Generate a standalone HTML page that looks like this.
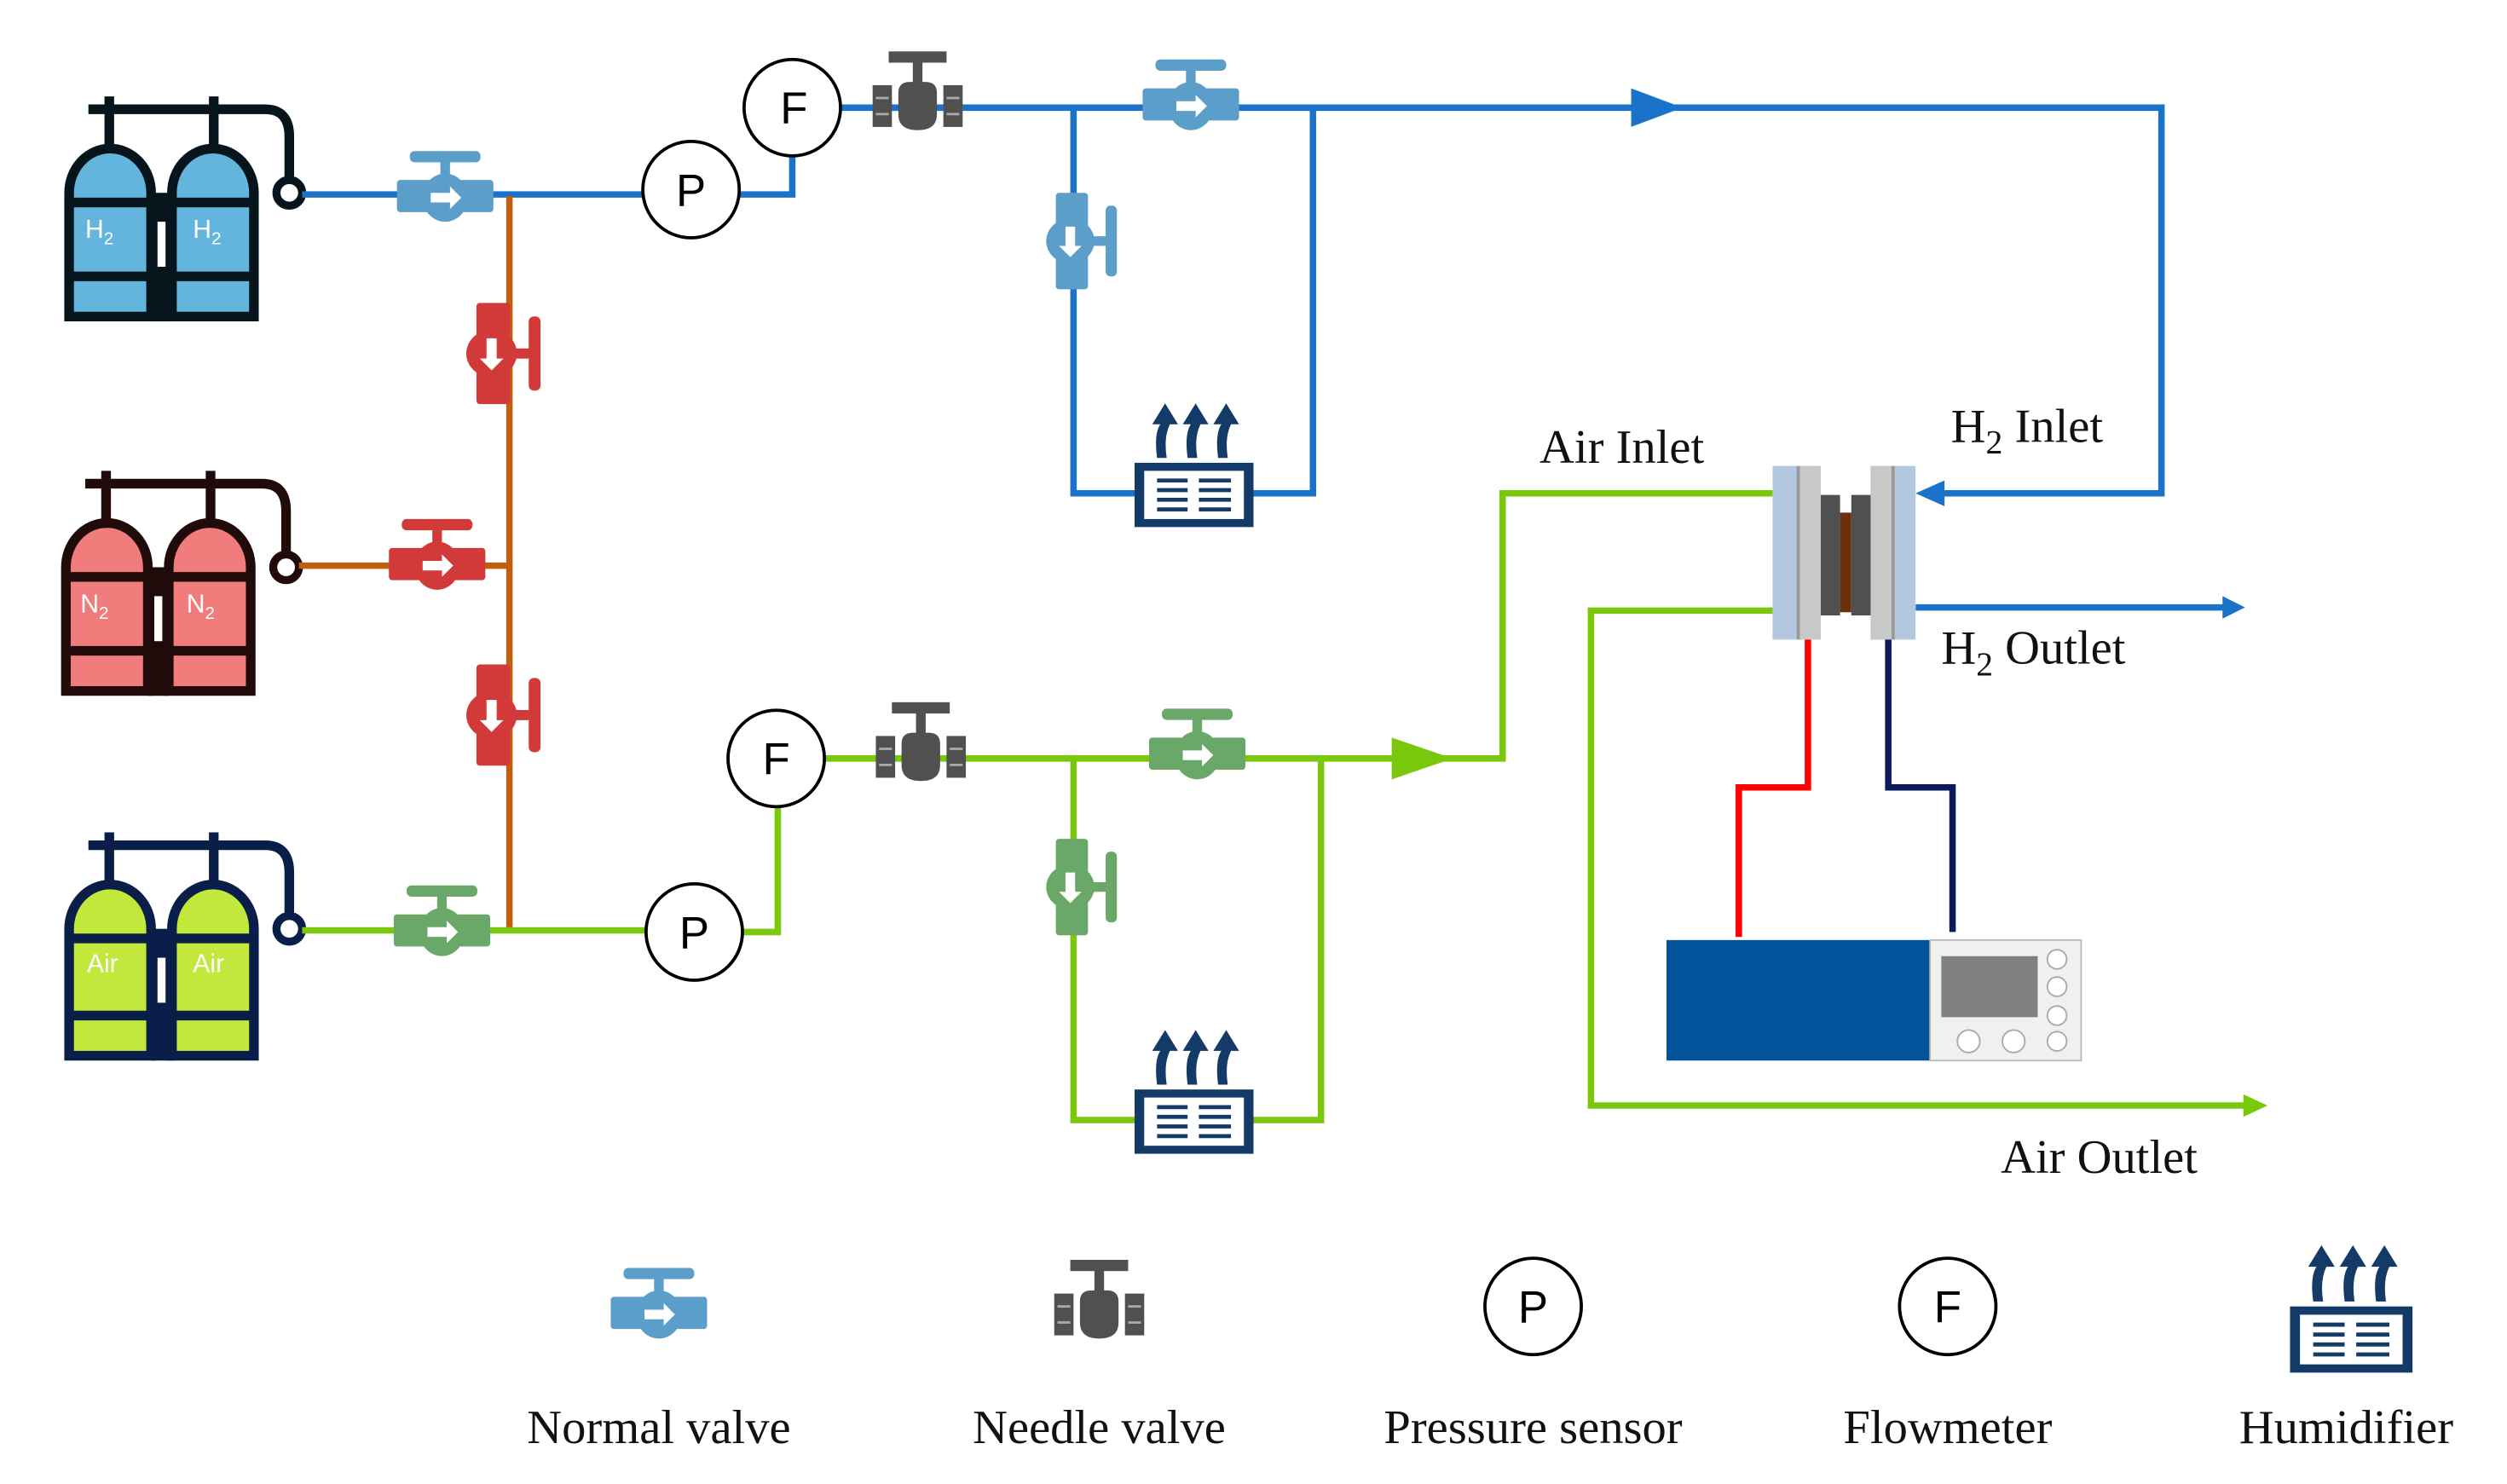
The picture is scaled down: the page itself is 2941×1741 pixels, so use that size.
<!DOCTYPE html>
<html><head><meta charset="utf-8"><style>
html,body{margin:0;padding:0;background:#fff;}
svg{display:block;}
.s{font-family:"Liberation Serif",serif;}
.a{font-family:"Liberation Sans",sans-serif;}
</style></head><body>
<svg width="2941" height="1741" viewBox="0 0 1560 923.5" xmlns="http://www.w3.org/2000/svg">
<defs>
<g id="nv">
  <rect x="-30" y="-9" width="60" height="20" rx="2"/>
  <ellipse cx="0" cy="2" rx="14" ry="15"/>
  <rect x="-3" y="-22" width="6" height="14"/>
  <rect x="-22" y="-27" width="44" height="7" rx="3"/>
  <path d="M-9,-1 H3 V-5 L10,2 L3,9 V5 H-9 Z" fill="#fff"/>
</g>
<g id="ndl" fill="#505050">
  <rect x="-28" y="-13" width="12" height="26"/>
  <rect x="16" y="-13" width="12" height="26"/>
  <path d="M-12,-8 Q-12,-15 -5,-15 H5 Q12,-15 12,-8 V5 Q12,15 0,15 Q-12,15 -12,5 Z"/>
  <rect x="-3" y="-28" width="6" height="14"/>
  <rect x="-18" y="-34" width="36" height="7"/>
  <g stroke="#aaa" stroke-width="1.5"><line x1="-26" y1="-5" x2="-18" y2="-5"/><line x1="-26" y1="5" x2="-18" y2="5"/><line x1="18" y1="-5" x2="26" y2="-5"/><line x1="18" y1="5" x2="26" y2="5"/></g>
</g>
<g id="hum">
  <rect x="0" y="0" width="74" height="40" fill="#143a68"/>
  <rect x="6" y="5" width="62" height="30" fill="#fff"/>
  <g stroke="#143a68" stroke-width="2.5">
    <line x1="14" y1="11" x2="33" y2="11"/><line x1="14" y1="17" x2="33" y2="17"/><line x1="14" y1="23" x2="33" y2="23"/><line x1="14" y1="29" x2="33" y2="29"/>
    <line x1="40" y1="11" x2="60" y2="11"/><line x1="40" y1="17" x2="60" y2="17"/><line x1="40" y1="23" x2="60" y2="23"/><line x1="40" y1="29" x2="60" y2="29"/>
  </g>
  <g fill="#143a68">
    <path d="M14,-3 Q12,-18 16,-24 L11,-24 L19,-37 L27,-24 L22,-24 Q18,-16 20,-3 Z"/>
    <path d="M33,-3 Q31,-18 35,-24 L30,-24 L38,-37 L46,-24 L41,-24 Q37,-16 39,-3 Z"/>
    <path d="M52,-3 Q50,-18 54,-24 L49,-24 L57,-37 L65,-24 L60,-24 Q56,-16 58,-3 Z"/>
  </g>
</g>
</defs>

<!-- Tanks -->
<g transform="translate(40,60)">
  <g fill="none" stroke="#06141c" stroke-width="6"><path d="M15,8 H125 Q140,8 140,25 V52"/><line x1="28" y1="0" x2="28" y2="32"/><line x1="93" y1="0" x2="93" y2="32"/></g>
  <circle cx="140" cy="60" r="8" fill="#fff" stroke="#06141c" stroke-width="5"/>
  <g fill="#63b5de" stroke="#06141c" stroke-width="6"><path d="M3,137 V60 A25,27 0 0 1 54,60 V137 Z"/><path d="M67,137 V60 A25,27 0 0 1 118,60 V137 Z"/></g>
  <g stroke="#06141c" stroke-width="6"><line x1="3" y1="66" x2="118" y2="66"/><line x1="3" y1="112" x2="118" y2="112"/></g>
  <rect x="54" y="60" width="13" height="80" fill="#06141c"/><rect x="58" y="78" width="5" height="28" fill="#fff"/>
  <text class="a" x="13" y="88" fill="#fff" font-size="16">H<tspan font-size="11" dy="4">2</tspan></text>
  <text class="a" x="80" y="88" fill="#fff" font-size="16">H<tspan font-size="11" dy="4">2</tspan></text>
</g>
<g transform="translate(38,293)">
  <g fill="none" stroke="#200a0a" stroke-width="6"><path d="M15,8 H125 Q140,8 140,25 V52"/><line x1="28" y1="0" x2="28" y2="32"/><line x1="93" y1="0" x2="93" y2="32"/></g>
  <circle cx="140" cy="60" r="8" fill="#fff" stroke="#200a0a" stroke-width="5"/>
  <g fill="#f17c7c" stroke="#200a0a" stroke-width="6"><path d="M3,137 V60 A25,27 0 0 1 54,60 V137 Z"/><path d="M67,137 V60 A25,27 0 0 1 118,60 V137 Z"/></g>
  <g stroke="#200a0a" stroke-width="6"><line x1="3" y1="66" x2="118" y2="66"/><line x1="3" y1="112" x2="118" y2="112"/></g>
  <rect x="54" y="60" width="13" height="80" fill="#200a0a"/><rect x="58" y="78" width="5" height="28" fill="#fff"/>
  <text class="a" x="12" y="88" fill="#fff" font-size="16">N<tspan font-size="11" dy="4">2</tspan></text>
  <text class="a" x="78" y="88" fill="#fff" font-size="16">N<tspan font-size="11" dy="4">2</tspan></text>
</g>
<g transform="translate(40,518)">
  <g fill="none" stroke="#0a1e4a" stroke-width="6"><path d="M15,8 H125 Q140,8 140,25 V52"/><line x1="28" y1="0" x2="28" y2="32"/><line x1="93" y1="0" x2="93" y2="32"/></g>
  <circle cx="140" cy="60" r="8" fill="#fff" stroke="#0a1e4a" stroke-width="5"/>
  <g fill="#c2e83c" stroke="#0a1e4a" stroke-width="6"><path d="M3,139 V60 A25,27 0 0 1 54,60 V139 Z"/><path d="M67,139 V60 A25,27 0 0 1 118,60 V139 Z"/></g>
  <g stroke="#0a1e4a" stroke-width="6"><line x1="3" y1="66" x2="118" y2="66"/><line x1="3" y1="114" x2="118" y2="114"/></g>
  <rect x="54" y="60" width="13" height="82" fill="#0a1e4a"/><rect x="58" y="78" width="5" height="28" fill="#fff"/>
  <text class="a" x="14" y="87" fill="#fff" font-size="16">Air</text>
  <text class="a" x="80" y="87" fill="#fff" font-size="16">Air</text>
</g>

<!-- H2 lines -->
<g fill="none" stroke="#1a73c9" stroke-width="4">
  <path d="M188,121 H400"/><path d="M460,121 H493 V97"/>
  <path d="M523,67 H1345 V307 H1200"/>
  <path d="M668,67 V307 H706"/><path d="M780,307 H817 V67"/>
  <path d="M1192,378 H1385"/>
</g>
<path d="M1015,55 L1047,67 L1015,79 Z" fill="#1a73c9"/>
<path d="M1192,307 L1210,299 L1210,315 Z" fill="#1a73c9"/>
<path d="M1383,371 L1397,378 L1383,385 Z" fill="#1a73c9"/>

<!-- N2 orange -->
<g fill="none" stroke="#c0600e" stroke-width="4"><path d="M186,352 H317"/><path d="M317,122 V580"/></g>

<!-- Air lines -->
<g fill="none" stroke="#7ac70c" stroke-width="4">
  <path d="M188,579 H402"/><path d="M462,580 H484 V502"/>
  <path d="M513,472 H935 V307 H1103"/>
  <path d="M668,472 V697 H706"/><path d="M780,697 H822 V472"/>
  <path d="M1103,380 H990 V688 H1398"/>
</g>
<path d="M866,459 L904,472 L866,485 Z" fill="#7ac70c"/>
<path d="M1396,681 L1411,688 L1396,695 Z" fill="#7ac70c"/>

<!-- valves -->
<use href="#nv" transform="translate(277,121)" fill="#5b9ec9"/>
<use href="#nv" transform="translate(741,64)" fill="#5b9ec9"/>
<use href="#nv" transform="translate(668,150) rotate(90)" fill="#5b9ec9"/>
<use href="#nv" transform="translate(272,350)" fill="#d23a3a"/>
<use href="#nv" transform="translate(308,220) rotate(90) scale(1.05)" fill="#d23a3a"/>
<use href="#nv" transform="translate(308,445) rotate(90) scale(1.05)" fill="#d23a3a"/>
<use href="#nv" transform="translate(275,578)" fill="#6aa86a"/>
<use href="#nv" transform="translate(745,468)" fill="#6aa86a"/>
<use href="#nv" transform="translate(668,552) rotate(90)" fill="#6aa86a"/>
<use href="#ndl" transform="translate(571,66)"/>
<use href="#ndl" transform="translate(573,471)"/>
<use href="#hum" transform="translate(706,288)"/>
<use href="#hum" transform="translate(706,678)"/>

<!-- sensors -->
<g fill="#fff" stroke="#000" stroke-width="2">
  <circle cx="430" cy="118" r="30"/><circle cx="493" cy="67" r="30"/>
  <circle cx="432" cy="580" r="30"/><circle cx="483" cy="472" r="30"/>
  <circle cx="954" cy="813" r="30"/><circle cx="1212" cy="813" r="30"/>
</g>
<g class="a" font-size="28" text-anchor="middle">
  <text x="430" y="128">P</text><text x="494" y="77">F</text>
  <text x="432" y="590">P</text><text x="483" y="482">F</text>
  <text x="954" y="823">P</text><text x="1212" y="823">F</text>
</g>

<!-- fuel cell -->
<rect x="1103" y="290" width="28" height="108" fill="#b3c8de"/>
<rect x="1119" y="290" width="14" height="108" fill="#c8c8c8"/><rect x="1118" y="290" width="2" height="108" fill="#999"/>
<rect x="1164" y="290" width="28" height="108" fill="#b3c8de"/>
<rect x="1164" y="290" width="14" height="108" fill="#c8c8c8"/><rect x="1177" y="290" width="2" height="108" fill="#999"/>
<rect x="1133" y="308" width="12" height="75" fill="#505050"/>
<rect x="1152" y="308" width="12" height="75" fill="#505050"/>
<rect x="1145" y="319" width="7" height="62" fill="#6b300a"/>
<path d="M1125,398 V490 H1082 V583" fill="none" stroke="#f00" stroke-width="4"/>
<path d="M1175,398 V490 H1215 V580" fill="none" stroke="#0a1a5c" stroke-width="4"/>

<!-- load -->
<rect x="1037" y="585" width="164" height="75" fill="#03539a"/>
<rect x="1201" y="585" width="94" height="75" fill="#f0f0f0" stroke="#bbb" stroke-width="1"/>
<rect x="1208" y="595" width="60" height="38" fill="#808080"/>
<g fill="#fff" stroke="#aaa" stroke-width="1">
  <circle cx="1280" cy="597" r="6"/><circle cx="1280" cy="614" r="6"/><circle cx="1280" cy="632" r="6"/><circle cx="1280" cy="648" r="6"/>
  <circle cx="1225" cy="648" r="7"/><circle cx="1253" cy="648" r="7"/>
</g>

<!-- labels -->
<g class="s" font-size="30" fill="#111">
  <text x="958" y="288">Air Inlet</text>
  <text x="1214" y="275">H<tspan font-size="21" dy="7">2</tspan><tspan dy="-7"> Inlet</tspan></text>
  <text x="1208" y="413">H<tspan font-size="21" dy="7">2</tspan><tspan dy="-7"> Outlet</tspan></text>
  <text x="1245" y="730">Air Outlet</text>
</g>

<!-- legend -->
<use href="#nv" transform="translate(410,816)" fill="#5b9ec9"/>
<use href="#ndl" transform="translate(684,818)"/>
<use href="#hum" transform="translate(1425,813) scale(1.03)"/>
<g class="s" font-size="30" fill="#111" text-anchor="middle">
  <text x="410" y="898">Normal valve</text>
  <text x="684" y="898">Needle valve</text>
  <text x="954" y="898">Pressure sensor</text>
  <text x="1212" y="898">Flowmeter</text>
  <text x="1460" y="898">Humidifier</text>
</g>
</svg>
</body></html>
